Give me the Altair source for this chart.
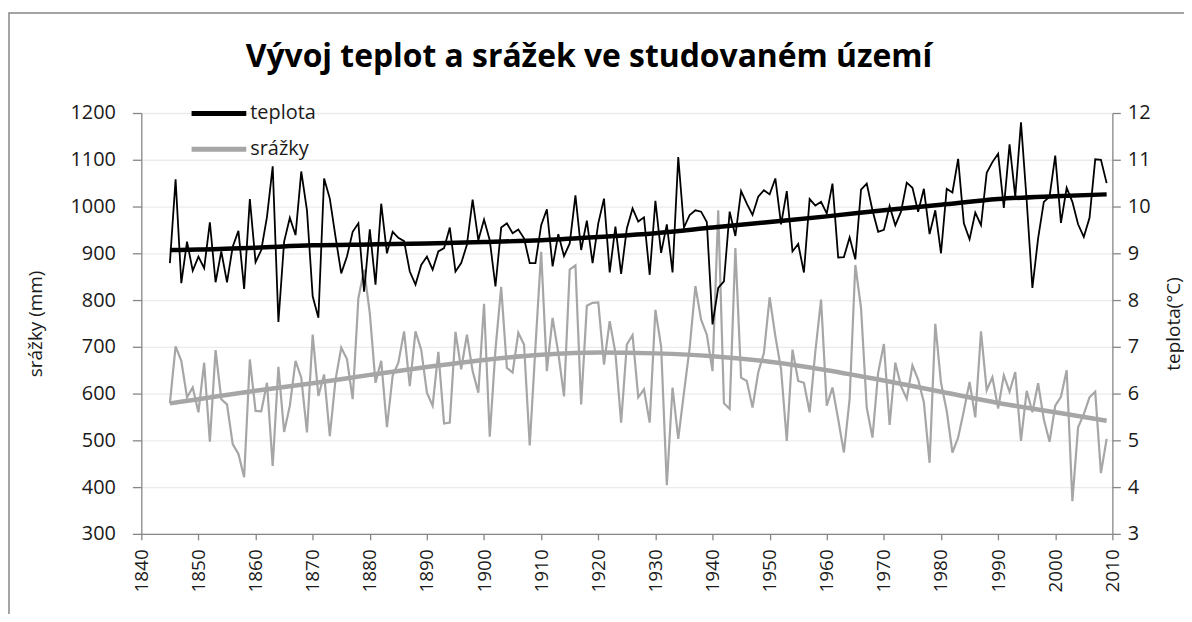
import altair as alt
import pandas as pd

# ---------------- data ----------------
roky = list(range(1845, 2010))

teplota = [
    8.79, 10.58, 8.36, 9.25, 8.63, 8.93, 8.68, 9.66, 8.38, 9.04,
    8.38, 9.14, 9.48, 8.24, 10.16, 8.81, 9.07, 9.78, 10.86, 7.53,
    9.25, 9.76, 9.39, 10.75, 9.92, 8.08, 7.62, 10.60, 10.17, 9.35,
    8.57, 8.93, 9.46, 9.64, 8.18, 9.51, 8.33, 10.06, 9.00, 9.46,
    9.33, 9.26, 8.61, 8.33, 8.75, 8.93, 8.65, 9.04, 9.11, 9.55,
    8.61, 8.79, 9.18, 10.15, 9.28, 9.72, 9.28, 8.29, 9.55, 9.64,
    9.43, 9.51, 9.32, 8.79, 8.79, 9.60, 9.94, 8.72, 9.41, 8.94,
    9.21, 10.24, 9.07, 9.70, 8.79, 9.64, 10.17, 8.59, 9.57, 8.56,
    9.53, 9.96, 9.68, 9.77, 8.54, 10.12, 9.01, 9.62, 8.59, 11.06,
    9.55, 9.82, 9.92, 9.89, 9.67, 7.48, 8.26, 8.40, 9.89, 9.37,
    10.33, 10.06, 9.82, 10.21, 10.35, 10.26, 10.60, 9.62, 10.33, 9.04,
    9.20, 8.59, 10.16, 10.02, 10.10, 9.85, 10.49, 8.91, 8.92, 9.34,
    8.87, 10.36, 10.49, 9.92, 9.46, 9.50, 10.01, 9.60, 9.89, 10.51,
    10.40, 9.89, 10.38, 9.41, 9.92, 9.00, 10.38, 10.30, 11.02, 9.64,
    9.30, 9.87, 9.60, 10.72, 10.95, 11.13, 9.97, 11.33, 10.21, 11.80,
    10.13, 8.26, 9.32, 10.10, 10.21, 11.09, 9.65, 10.40, 10.10, 9.62,
    9.35, 9.76, 11.01, 11.00, 10.50,
]

srazky = [
    579, 701, 670, 592, 613, 560, 666, 497, 693, 588,
    577, 492, 471, 421, 673, 563, 562, 623, 445, 657,
    518, 574, 670, 634, 517, 726, 595, 641, 509, 630,
    698, 674, 588, 804, 865, 772, 623, 670, 528, 638,
    666, 733, 616, 733, 694, 602, 574, 689, 536, 538,
    732, 652, 726, 648, 602, 792, 508, 694, 828, 655,
    645, 730, 705, 489, 700, 903, 648, 762, 687, 594,
    865, 874, 577, 788, 794, 795, 662, 755, 687, 538,
    705, 725, 592, 609, 538, 779, 701, 404, 613, 503,
    602, 698, 830, 758, 726, 648, 992, 579, 567, 911,
    634, 627, 570, 645, 687, 806, 723, 652, 499, 694,
    627, 623, 560, 690, 801, 574, 613, 545, 474, 588,
    875, 783, 570, 506, 645, 706, 533, 666, 616, 589,
    660, 630, 581, 452, 749, 623, 563, 474, 506, 563,
    625, 549, 733, 607, 635, 568, 639, 604, 646, 499,
    606, 560, 622, 545, 497, 574, 593, 650, 370, 528,
    556, 592, 604, 430, 503,
]

trend_roky = [1845, 1850, 1860, 1870, 1880, 1890, 1900, 1910, 1920,
              1930, 1940, 1950, 1960, 1970, 1980, 1990, 2000, 2009]
trend_teplota = [9.07, 9.08, 9.12, 9.17, 9.19, 9.21, 9.24, 9.28, 9.35,
                 9.43, 9.55, 9.67, 9.79, 9.92, 10.04, 10.16, 10.22, 10.26]
trend_srazky = [579, 588, 606, 622, 640, 657, 672, 683, 688,
                686, 680, 668, 650, 628, 604, 580, 560, 542]

serie = ["teplota", "srážky"]
barvy = ["#000000", "#a6a6a6"]
titulek = "Vývoj teplot a srážek ve studovaném území"
x_ticks = list(range(1840, 2011, 10))
y_left_ticks = list(range(300, 1201, 100))
y_right_ticks = list(range(3, 13))

# ---------------- tables ----------------
df_t = pd.DataFrame({"rok": roky, "teplota": teplota, "serie": serie[0]})
df_s = pd.DataFrame({"rok": roky, "srazky": srazky, "serie": serie[1]})
tr_t = pd.DataFrame({"rok": trend_roky, "teplota": trend_teplota, "serie": serie[0]})
tr_s = pd.DataFrame({"rok": trend_roky, "srazky": trend_srazky, "serie": serie[1]})

FONT = "Open Sans"
PLOT_W, PLOT_H = 976, 423

x_enc = alt.X(
    "rok:Q",
    scale=alt.Scale(domain=[1840, 2010], nice=False),
    axis=alt.Axis(
        values=x_ticks, format="d", labelAngle=270, title=None, grid=False,
        tickSize=6, labelPadding=9, labelFontSize=19,
    ),
)

color_enc = alt.Color(
    "serie:N",
    scale=alt.Scale(domain=serie, range=barvy),
    legend=alt.Legend(title=None),
)

axis_left = alt.Axis(
    values=y_left_ticks, format="d", title="srážky (mm)", orient="left", grid=True,
    tickSize=9, labelPadding=17, labelFontSize=20,
    titleAngle=270, titleX=-106, titleY=PLOT_H / 2, titleAlign="center",
    titleBaseline="middle", titleFontSize=19, titleFontWeight="normal",
)
axis_right = alt.Axis(
    values=y_right_ticks, format="d", title="teplota(°C)", orient="right", grid=False,
    tickSize=8, labelPadding=7, labelFontSize=20,
    titleAngle=270, titleX=61, titleY=PLOT_H / 2, titleAlign="center",
    titleBaseline="middle", titleFontSize=19, titleFontWeight="normal",
)

y_s = alt.Y("srazky:Q", scale=alt.Scale(domain=[300, 1200], nice=False), axis=axis_left)
y_t = alt.Y("teplota:Q", scale=alt.Scale(domain=[3, 12], nice=False), axis=axis_right)

border = alt.Chart(pd.DataFrame({"a": [0]})).mark_rect(
    fillOpacity=0, stroke="#878787", strokeWidth=1.5
).encode(
    x=alt.value(-133), x2=alt.value(1100), y=alt.value(-100.5), y2=alt.value(600)
)

s_raw = alt.Chart(df_s).mark_line(strokeWidth=2.2).encode(x=x_enc, y=y_s, color=color_enc)
s_tr = alt.Chart(tr_s).mark_line(strokeWidth=4.5, interpolate="monotone").encode(x=x_enc, y=y_s, color=color_enc)
t_raw = alt.Chart(df_t).mark_line(strokeWidth=1.8).encode(x=x_enc, y=y_t, color=color_enc)
t_tr = alt.Chart(tr_t).mark_line(strokeWidth=4.5, interpolate="monotone").encode(x=x_enc, y=y_t, color=color_enc)

left = alt.layer(s_raw, s_tr)
right = alt.layer(t_raw, t_tr)

chart = alt.layer(border, left, right).resolve_scale(y="independent").properties(
    width=PLOT_W,
    height=PLOT_H,
    autosize=alt.AutoSizeParams(type="none"),
    padding={"left": 134, "top": 104, "right": 72, "bottom": 79},
    title=alt.TitleParams(
        text=titulek, fontSize=32, fontWeight="bold", font=FONT, color="#000000",
        anchor="middle", dx=-38, offset=-87, baseline="alphabetic",
    ),
).configure(
    font=FONT,
).configure_view(
    stroke=None,
).configure_axis(
    domainColor="#868686", domainWidth=1.3, tickColor="#868686", tickWidth=1.3,
    gridColor="#ebebeb", gridWidth=1.3, labelColor="#1a1a1a", titleColor="#1a1a1a",
    labelFont=FONT, titleFont=FONT,
).configure_legend(
    orient="none", legendX=65.5, legendY=-12,
    symbolType="M-2.75,0H2.75", symbolSize=400, symbolStrokeWidth=5,
    labelFontSize=20, labelFont=FONT, labelColor="#1a1a1a", labelOffset=19,
    rowPadding=13, padding=0,
)

chart.save("out.html", embed_options={"renderer": "svg", "actions": False})
